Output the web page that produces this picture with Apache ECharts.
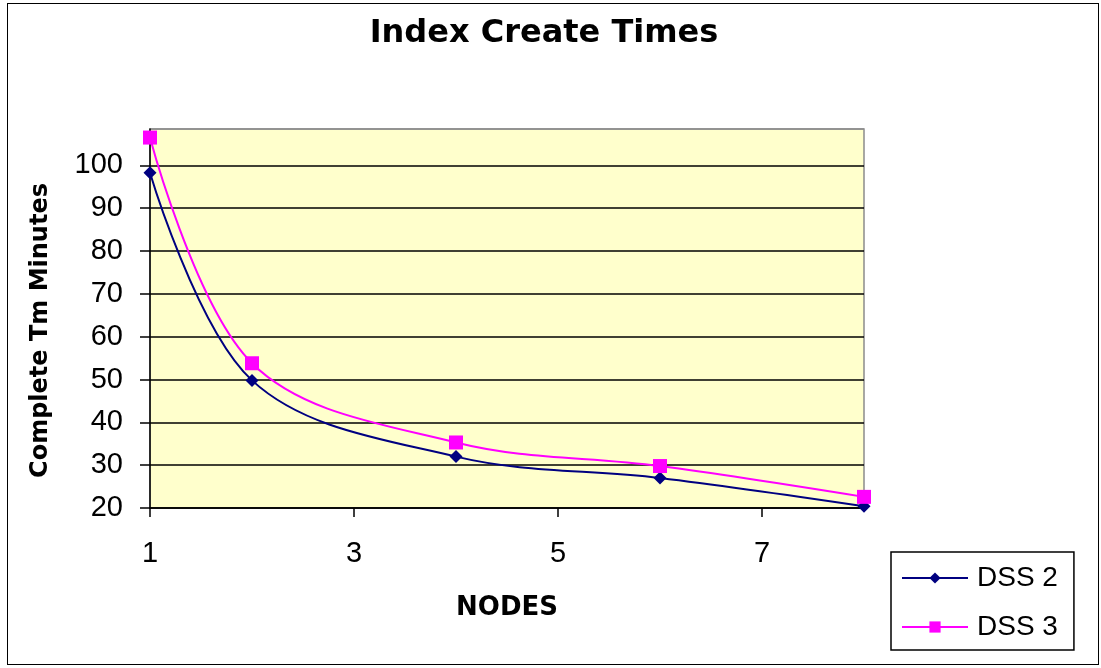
<!DOCTYPE html>
<html>
<head>
<meta charset="utf-8">
<script src="https://cdn.jsdelivr.net/npm/echarts@6/dist/echarts.min.js"></script>
<style>
html,body{margin:0;padding:0;background:#fff;}
#frame{position:absolute;left:7px;top:3px;width:1092px;height:662px;border:1px solid #000;box-sizing:border-box;}
#chart{position:absolute;left:0;top:0;width:1101px;height:668px;}
</style>
</head>
<body>
<div id="frame"></div>
<div id="chart"></div>
<script>
const categories = ['1','2','3','4','5','6','7','8'];
const nodes = [1, 2, 4, 6, 8];
const dss2 = [98.3, 49.8, 32, 27, 20.4];
const dss3 = [106.5, 53.8, 35.3, 29.8, 22.6];
const yTicks = [20, 30, 40, 50, 60, 70, 80, 90, 100];

const chart = echarts.init(document.getElementById('chart'), null, {renderer: 'canvas'});
const boldFont = '"DejaVu Sans", Arial, sans-serif';
const tickFont = '"Liberation Sans Narrow", "Liberation Sans", Arial, sans-serif';
const legendFont = '"Liberation Sans", Arial, sans-serif';
const splitColors = yTicks.map(() => '#000').concat(['#8c8c8c']);
chart.setOption({
  animation: false,
  backgroundColor: 'transparent',
  title: {
    text: 'Index Create Times',
    left: 539, top: 13, textAlign: 'center',
    textStyle: {fontFamily: boldFont, fontSize: 32, fontWeight: 'bold', color: '#000'}
  },
  legend: {
    orient: 'vertical',
    left: 891, top: 552,
    padding: [12, 16, 9, 10],
    itemGap: 21,
    itemWidth: 66, itemHeight: 14,
    borderColor: '#000', borderWidth: 1.5,
    textStyle: {fontFamily: legendFont, fontSize: 28, color: '#000', padding: [0, 0, 0, 4]},
    data: ['DSS 2', 'DSS 3']
  },
  grid: {left: 150, top: 129, right: 237, bottom: 160, show: true,
    backgroundColor: '#FFFFCC', borderColor: '#8c8c8c', borderWidth: 1.5},
  xAxis: {
    type: 'category', data: categories, boundaryGap: false,
    name: 'NODES', nameLocation: 'middle', nameGap: 87,
    nameTextStyle: {fontFamily: boldFont, fontSize: 26, fontWeight: 'bold', color: '#000'},
    axisLine: {lineStyle: {color: '#000', width: 1.5}},
    axisTick: {interval: 1, length: 9, lineStyle: {color: '#000', width: 1.5}},
    axisLabel: {interval: 1, fontFamily: tickFont, fontSize: 29, color: '#000', margin: 31},
    splitLine: {show: false}
  },
  yAxis: {
    type: 'value', min: 20, max: 108.5, interval: 10,
    name: 'Complete Tm Minutes', nameLocation: 'middle', nameGap: 97,
    nameTextStyle: {fontFamily: boldFont, fontSize: 24, fontWeight: 'bold', color: '#000',
      padding: [0, 24, 0, 0]},
    axisLine: {show: true, lineStyle: {color: '#000', width: 1.5}},
    axisTick: {show: true, length: 10, lineStyle: {color: '#000', width: 1.5}},
    axisLabel: {fontFamily: tickFont, fontSize: 29, color: '#000', margin: 27,
      showMaxLabel: false, verticalAlign: 'middle',
      formatter: v => yTicks.includes(v) ? String(v) : ''},
    splitLine: {show: true, lineStyle: {color: splitColors, width: 1.5}}
  },
  series: [
    {
      name: 'DSS 2', type: 'line', smooth: 0.35,
      data: nodes.map((n, i) => [String(n), dss2[i]]),
      symbol: 'diamond', symbolSize: 13,
      lineStyle: {color: '#000080', width: 2},
      itemStyle: {color: '#000080'}
    },
    {
      name: 'DSS 3', type: 'line', smooth: 0.35,
      data: nodes.map((n, i) => [String(n), dss3[i]]),
      symbol: 'rect', symbolSize: 14,
      lineStyle: {color: '#FF00FF', width: 2},
      itemStyle: {color: '#FF00FF'}
    }
  ]
});
</script>
</body>
</html>
